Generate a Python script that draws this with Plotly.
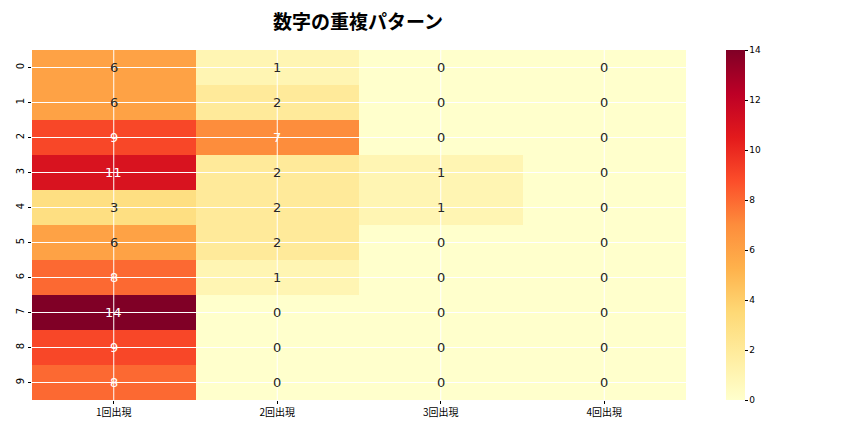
import plotly.graph_objects as go

# 出現回数ごとの数字の重複
columns = ["1回出現", "2回出現", "3回出現", "4回出現"]
rows = ["0", "1", "2", "3", "4", "5", "6", "7", "8", "9"]
counts = [
    [6, 1, 0, 0],
    [6, 2, 0, 0],
    [9, 7, 0, 0],
    [11, 2, 1, 0],
    [3, 2, 1, 0],
    [6, 2, 0, 0],
    [8, 1, 0, 0],
    [14, 0, 0, 0],
    [9, 0, 0, 0],
    [8, 0, 0, 0],
]

ylorrd = ["#ffffcc", "#ffeda0", "#fed976", "#feb24c", "#fd8d3c",
          "#fc4e2a", "#e31a1c", "#bd0026", "#800026"]
cscale = [[i / (len(ylorrd) - 1), c] for i, c in enumerate(ylorrd)]
zmax = max(max(r) for r in counts)

fig = go.Figure(go.Heatmap(
    z=counts, x=columns, y=rows,
    colorscale=cscale, zmin=0, zmax=zmax,
    colorbar=dict(
        x=(726 - 32) / 654, xanchor="left", y=0.5, yanchor="middle",
        xpad=0, ypad=0,
        len=1, lenmode="fraction", thickness=19, outlinewidth=0,
        tickmode="linear", tick0=0, dtick=2,
        ticks="outside", ticklen=3, tickcolor="black",
        tickfont=dict(family="DejaVu Sans", size=9, color="black"),
    ),
    hoverinfo="skip",
))

# 値の注釈
for i, r in enumerate(counts):
    for j, v in enumerate(r):
        fig.add_annotation(
            x=columns[j], y=rows[i], text=str(v), showarrow=False,
            font=dict(family="DejaVu Sans", size=13,
                      color="white" if v >= 7 else "#262626"),
        )

# 白いグリッド線（ヒートマップの上）
for j in range(len(columns)):
    fig.add_shape(type="line", xref="x", yref="paper", x0=j, x1=j, y0=0, y1=1,
                  line=dict(color="white", width=1), layer="above")
for i in range(len(rows)):
    fig.add_shape(type="line", xref="paper", yref="y", x0=0, x1=1, y0=i, y1=i,
                  line=dict(color="white", width=1), layer="above")

# ページ本体の8pxの余白を差し引いて配置
fig.update_layout(
    width=864, height=432,
    margin=dict(l=24, r=186, t=42, b=40),
    paper_bgcolor="white", plot_bgcolor="white",
    title=dict(text="数字の重複パターン", x=350 / 864, xanchor="center",
               y=1 - 14 / 432, yanchor="middle",
               font=dict(family="Noto Sans CJK JP", size=19, color="black",
                         weight="bold")),
    font=dict(family="Noto Sans CJK JP", color="black"),
    xaxis=dict(range=[-0.5, 3.5], showgrid=False, zeroline=False,
               automargin=False,
               ticks="outside", ticklen=3, tickcolor="black",
               tickfont=dict(family="Noto Sans CJK JP", size=10, color="black")),
    yaxis=dict(range=[9.5, -0.5], showgrid=False, zeroline=False,
               automargin=False,
               ticks="outside", ticklen=3, tickcolor="black", tickangle=-90,
               tickfont=dict(family="DejaVu Sans", size=10, color="black")),
)

fig.write_html("out.html")
